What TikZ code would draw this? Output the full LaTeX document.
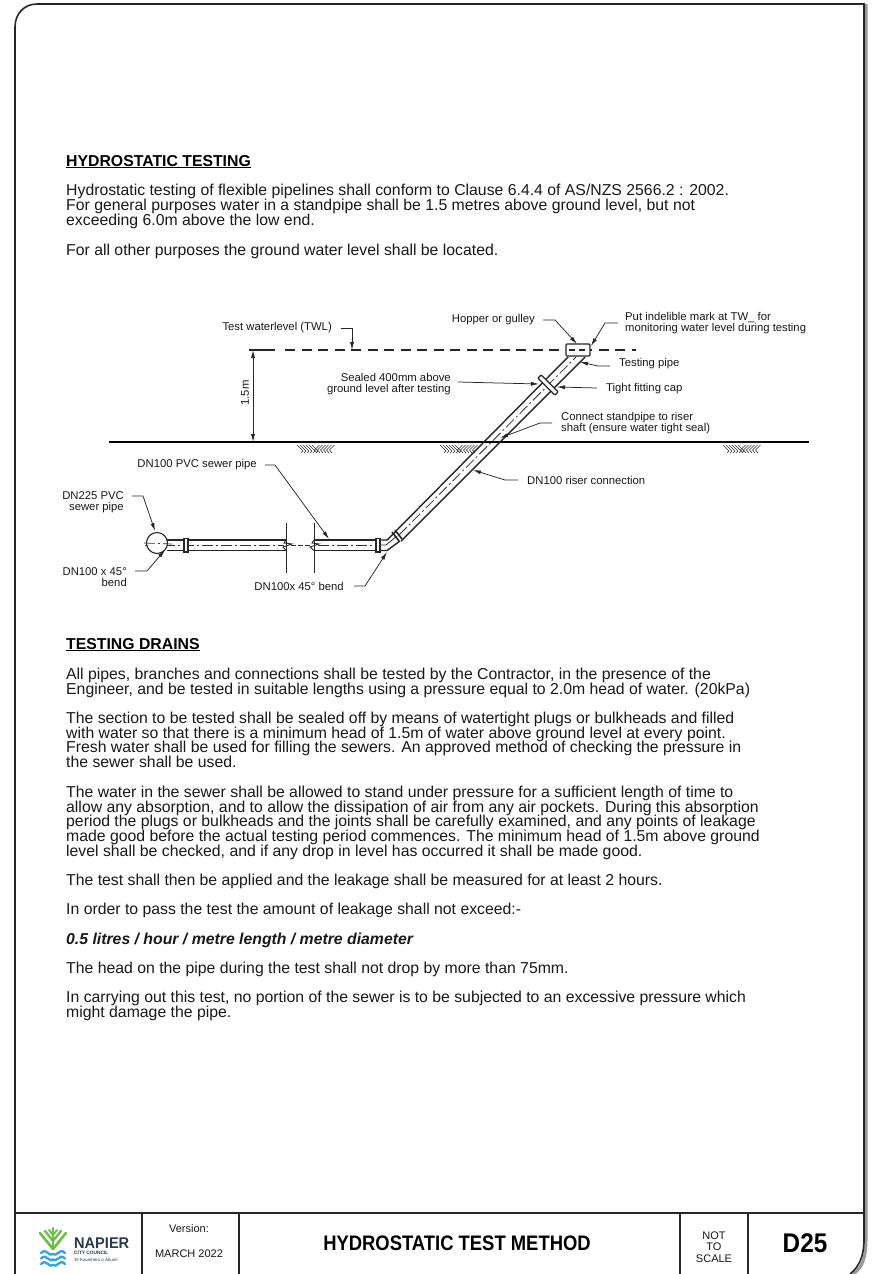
\documentclass[tikz,border=0pt]{standalone}
\usepackage{fontspec}
\setmainfont{Liberation Sans}
\usetikzlibrary{arrows.meta,calc}
\definecolor{logogreen}{HTML}{6DBE45}
\definecolor{logoblue}{HTML}{2BA6DE}
\definecolor{logotext}{HTML}{2B3A4A}
\tikzset{
  x=1pt,y=-1pt,
  frameline/.style={line width=1.6pt,black!85},
  shadowline/.style={line width=3pt,black!40},
  cell/.style={line width=1.2pt,black!85},
  body/.style={anchor=base west,inner sep=0pt,font=\fontsize{15.8}{15}\selectfont,text=black!90},
  head/.style={anchor=base west,inner sep=0pt,font=\fontsize{15.8}{15}\selectfont\bfseries},
  lab/.style={inner sep=0pt,font=\fontsize{11.3}{11}\selectfont,text=black!90},
  labtwo/.style={lab,font=\fontsize{11.3}{10.5}\selectfont},
  leader/.style={line width=.75pt,black!85,-{Latex[length=8pt,width=4pt]}},
  pipe/.style={line width=1.4pt,black!85},
  centre/.style={line width=.8pt,black!80,dash pattern=on 11pt off 3pt on 2pt off 3pt},
  hatch/.style={line width=.6pt,black!80},
}
\newcommand{\hatchmark}[1]{%
  \begin{scope}[shift={(#1)}]
    \foreach \i in {0,3,6,9,12,15}{\draw[hatch] (\i,0) -- ++(6,6) -- ++(-2,2);}
    \foreach \i in {20,23,26,29,32,35}{\draw[hatch] (\i,8) -- ++(-2.5,-3) -- ++(5,-5);}
  \end{scope}}
\begin{document}
\begin{tikzpicture}
\useasboundingbox (0,0) rectangle (879,1274);
\fill[white] (0,0) rectangle (879,1274);
% frame
\draw[shadowline] (866,4) -- (866,1240) .. controls (866,1258) and (862,1268) .. (853,1274);
\draw[frameline] (15,1274) -- (15,27) .. controls (15,14) and (24,4) .. (37,4) -- (864,4) -- (864,1240) .. controls (864,1256) and (859,1267) .. (850,1274);
\draw[frameline] (15,1213) -- (864,1213);
\foreach \x in {142,239,680,748}{\draw[cell] (\x,1213)--(\x,1274);}
% title block
\node[lab,font=\fontsize{11}{12}\selectfont] (ver) at (189,1229) {Version:};
\node[lab,font=\fontsize{11}{12}\selectfont] (date) at (189,1254) {MARCH 2022};
\node[inner sep=0pt,font=\fontsize{21}{24}\bfseries\selectfont] (title) at (457,1243) {\scalebox{.877}[1]{HYDROSTATIC TEST METHOD}};
\node[lab,align=center,font=\fontsize{11}{11.5}\selectfont] (nts) at (714,1247) {NOT\\TO\\SCALE};
\node[inner sep=0pt,font=\fontsize{27}{30}\bfseries\selectfont] (dn) at (805,1243) {\scalebox{.9}[1]{D25}};
% logo
\begin{scope}[line cap=round,line join=round]
\draw[line width=2.2pt,logogreen] (53,1228) -- (53,1249);
\draw[line width=2.6pt,logogreen] (40,1233) -- (53,1249) -- (66,1233);
\draw[line width=2.3pt,logogreen] (45,1231) -- (53,1241) -- (61,1231);
\draw[line width=2pt,logogreen] (49,1230) -- (53,1235) -- (57,1230);
\foreach \y in {1254,1259.5,1265}{\draw[line width=2.3pt,logoblue] (41,\y-1) .. controls (44,\y-4) and (46,\y-3) .. (48,\y-1) .. controls (50,\y+1) and (51,\y+1) .. (53,\y) .. controls (55,\y+1) and (56,\y+1) .. (58,\y-1) .. controls (60,\y-3) and (62,\y-4) .. (65,\y-1);}
\end{scope}
\node[anchor=base west,inner sep=0pt,font=\fontsize{15.5}{15}\bfseries\selectfont,text=logotext] (nap) at (74,1248) {\scalebox{.94}[1]{NAPIER}};
\node[anchor=base west,inner sep=0pt,font=\fontsize{4.8}{5}\bfseries\selectfont,text=logotext] (ccl) at (74,1254) {CITY COUNCIL};
\node[anchor=base west,inner sep=0pt,font=\fontsize{4.4}{5}\selectfont,text=logotext] (mao) at (74,1261) {Te Kaunihera o Ahuriri};
% text upper
\node[head] (h1) at (66,166) {\underline{HYDROSTATIC TESTING}};
\node[body] (p1a) at (66,195) {Hydrostatic testing of flexible pipelines shall conform to Clause 6.4.4 of AS/NZS 2566.2 : 2002.};
\node[body] (p1b) at (66,210) {For general purposes water in a standpipe shall be 1.5 metres above ground level, but not};
\node[body] (p1c) at (66,225) {exceeding 6.0m above the low end.};
\node[body] (p1d) at (66,255) {For all other purposes the ground water level shall be located.};
% text lower
\node[head] (h2) at (66,649) {\underline{TESTING DRAINS}};
\foreach \y/\n/\t in {
679/q1/All pipes{,} branches and connections shall be tested by the Contractor{,} in the presence of the,
694/q2/Engineer{,} and be tested in suitable lengths using a pressure equal to 2.0m head of water. (20kPa),
723/q3/The section to be tested shall be sealed off by means of watertight plugs or bulkheads and filled,
738/q4/with water so that there is a minimum head of 1.5m of water above ground level at every point.,
752/q5/Fresh water shall be used for filling the sewers. An approved method of checking the pressure in,
767/q6/the sewer shall be used.,
797/q7/The water in the sewer shall be allowed to stand under pressure for a sufficient length of time to,
812/q8/allow any absorption{,} and to allow the dissipation of air from any air pockets. During this absorption,
826/q9/period the plugs or bulkheads and the joints shall be carefully examined{,} and any points of leakage,
841/q10/made good before the actual testing period commences. The minimum head of 1.5m above ground,
856/q11/level shall be checked{,} and if any drop in level has occurred it shall be made good.,
885/q12/The test shall then be applied and the leakage shall be measured for at least 2 hours.,
914/q13/In order to pass the test the amount of leakage shall not exceed:-,
973/q15/The head on the pipe during the test shall not drop by more than 75mm.,
1002/q16/In carrying out this test{,} no portion of the sewer is to be subjected to an excessive pressure which,
1017/q17/might damage the pipe.}
{\node[body] (\n) at (66,\y) {\t};}
\node[body,font=\fontsize{15.8}{15}\bfseries\itshape\selectfont] (q14) at (66,944) {0.5 litres / hour / metre length / metre diameter};
% ground
\coordinate (gL) at (109,442); \coordinate (gR) at (809,442);
\draw[line width=1.2pt,black] (gL) -- (gR);
\hatchmark{297,445}
\hatchmark{440,445}
\hatchmark{723,445}
% water line
\coordinate (twl0) at (249,350); \coordinate (twl1) at (275,350);
\coordinate (twl2) at (285,350); \coordinate (twl3) at (636,350);
\draw[line width=1.2pt,black!85] (twl0) -- (twl1);
\draw[line width=1.2pt,black!85,dash pattern=on 10pt off 6.5pt] (twl2) -- (twl3);
% dimension
\coordinate (d1) at (253,350); \coordinate (d2) at (253,442);
\draw[line width=.75pt,black!85,{Latex[length=8pt,width=4pt]}-{Latex[length=8pt,width=4pt]}] (d1) -- (d2);
\node[lab,rotate=90] (dim) at (245,393) {1.5m};
% horizontal pipe
\draw[pipe] (167,540) -- (286,540) (167,550.5) -- (286,550.5);
\draw[pipe] (314,540) -- (377,540) (314,550.5) -- (377,550.5);
\draw[pipe,line width=.9pt] (286,540) -- (284,543) -- (292,544) -- (283,547) -- (286,550.5);
\draw[pipe,line width=.9pt] (314,540) -- (312,543) -- (319,544) -- (310,547) -- (314,550.5);
\draw[line width=.8pt,black!85] (286,523) -- (286,573) (314,523) -- (314,573);
\draw[centre] (145,545) -- (284,545);
\draw[line width=.7pt,black!80,dash pattern=on 5pt off 2pt] (291,545) -- (310,545);
\draw[centre] (318,545) -- (377,545);
% collars
\draw[line width=1.2pt,black!85,fill=white] (184,538.5) rectangle (188,552);
\draw[line width=1.2pt,black!85,fill=white] (376,538.5) rectangle (380,552);
% bend
\draw[pipe] (380,540) -- (387,540) -- (396,531);
\draw[pipe] (380,550.5) -- (387,550.5) -- (400,541);
\draw[line width=.8pt,black!80] (380,545) -- (386,545) -- (397,536);
% riser
\draw[pipe] (396,531) -- (568,357);
\draw[pipe] (401,541) -- (585,357);
\draw[centre] (399,535) -- (576,357);
\draw[line width=1.6pt,black!85] (392,532) -- (399,541) (395,530) -- (402,539);
% cap
\draw[line width=1.3pt,black!85,fill=white,rounded corners=1pt,rotate around={-45:(548,385)}] (536,382.7) rectangle (560,387.3);
% hopper
\node[draw=black!85,fill=white,line width=1.2pt,rounded corners=1pt,minimum width=24pt,minimum height=12pt,inner sep=0pt] (hop) at (578,350) {};
\draw[line width=1.1pt,black!85,dash pattern=on 6pt off 4pt] (569,350) -- (588,350);
% DN225 circle
\node[draw=black!85,fill=white,line width=1.1pt,circle,minimum size=21pt,inner sep=0pt] (mh) at (157,543) {};
\draw[line width=.7pt,black!80,dash pattern=on 11pt off 3pt on 2pt off 3pt] (144,543) -- (172,544);
% labels and leaders
\node[lab,anchor=east] (l1) at (332,328) {Test waterlevel (TWL)};
\coordinate (l1e) at (352,350);
\draw[leader] (341,328) -| (l1e);
\node[lab,anchor=east] (l2) at (535,320) {Hopper or gulley};
\coordinate (l2e) at (577,344);
\draw[leader] (543,320) -- (555,320) -- (l2e);
\node[labtwo,align=left,anchor=west] (l3) at (625,323) {Put indelible mark at TW\_ for\\monitoring water level during testing};
\coordinate (l3e) at (591,346);
\draw[leader] (618,323) -- (605,323) -- (l3e);
\node[lab,anchor=west] (l4) at (619,364) {Testing pipe};
\coordinate (l4e) at (580,362);
\draw[leader] (610,366) -- (598,366) -- (l4e);
\node[lab,anchor=west] (l5) at (606,389) {Tight fitting cap};
\coordinate (l5e) at (557,387);
\draw[leader] (597,388) -- (l5e);
\node[lab,align=right,anchor=east,font=\fontsize{11.3}{10.8}\selectfont] (l6) at (451,384) {Sealed 400mm above\\ground level after testing};
\coordinate (l6e) at (539,384);
\draw[leader] (458,382) -- (l6e);
\node[labtwo,align=left,anchor=west] (l7) at (561,423) {Connect standpipe to riser\\shaft (ensure water tight seal)};
\coordinate (l7e) at (500,438);
\draw[leader] (552,423) -- (540,423) -- (l7e);
\node[lab,anchor=west] (l8) at (527,480) {DN100 riser connection};
\coordinate (l8e) at (473,470);
\draw[leader] (518,480) -- (505,480) -- (l8e);
\node[lab,anchor=east] (l9) at (257,465) {DN100 PVC sewer pipe};
\coordinate (l9e) at (329,539);
\draw[leader] (265,465) -- (275,465) -- (l9e);
\node[lab,align=right,anchor=east] (l10) at (124,502) {DN225 PVC\\sewer pipe};
\coordinate (l10e) at (155,531);
\draw[leader] (132,496) -- (143,496) -- (l10e);
\node[lab,align=right,anchor=east] (l11) at (127,577) {DN100 x 45°\\bend};
\coordinate (l11e) at (165,550);
\draw[leader] (135,571) -- (147,571) -- (l11e);
\node[lab,anchor=east] (l12) at (344,586) {DN100x 45° bend};
\coordinate (l12e) at (387,552);
\draw[leader] (354,586) -- (365,586) -- (l12e);
\end{tikzpicture}
\end{document}
